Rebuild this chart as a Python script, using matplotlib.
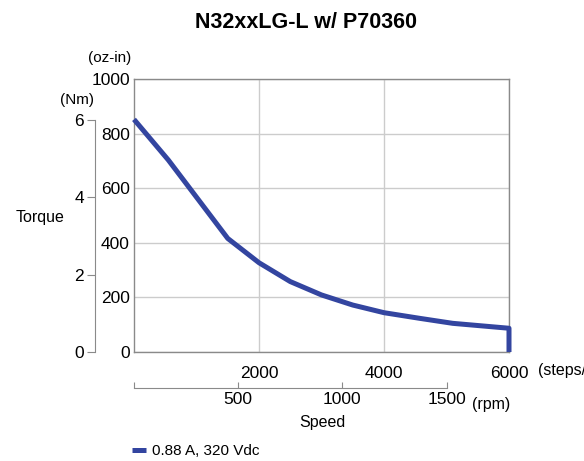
import matplotlib
matplotlib.use('Agg')
import matplotlib.pyplot as plt

plt.rcParams['font.family'] = ['Liberation Sans', 'DejaVu Sans']

# speed in steps/s, torque in oz-in
speed = [0, 550, 1500, 2000, 2500, 3000, 3500, 4000, 4580, 5100, 6000, 6000]
torque = [852, 703, 416, 327, 258, 209, 172, 144, 123, 105, 87, 0]

oz_ticks = [0, 200, 400, 600, 800, 1000]
nm_ticks = [0, 2, 4, 6]
step_ticks = [2000, 4000, 6000]
rpm_ticks = [0, 500, 1000, 1500]
rpm_labels = ['', '500', '1000', '1500']

title = 'N32xxLG-L w/ P70360'
series_label = '0.88 A, 320 Vdc'

W, H = 584, 461
PT = 0.72  # points per pixel at dpi 100
fig = plt.figure(figsize=(W / 100, H / 100), dpi=100)

x0, x1, y0, y1 = 134, 509, 79, 352
pos = [x0 / W, 1 - y1 / H, (x1 - x0) / W, (y1 - y0) / H]

ax = fig.add_axes(pos)
ax.plot(speed, torque, color='#3345a0', lw=3.6, solid_capstyle='butt',
        solid_joinstyle='round', label=series_label, zorder=5, clip_on=False)
ax.set_xlim(0, 6000)
ax.set_ylim(0, 1000)
ax.set_xticks(step_ticks)
ax.set_yticks(oz_ticks)
ax.grid(True, color='#cccccc', lw=1)
ax.tick_params(length=0, labelsize=12.5, pad=3)
ax.tick_params(axis='x', pad=10)
for s in ax.spines.values():
    s.set_color('#8a8a8a')
    s.set_linewidth(1)
ax.annotate('(steps/s)', xy=(6000, 0), xycoords=('data', 'axes fraction'),
            xytext=(29 * PT, -19 * PT), textcoords='offset points',
            fontsize=11.5, ha='left', va='center', annotation_clip=False)
fig.text(110 / W, 1 - 58 / H, '(oz-in)', fontsize=11, ha='center', va='center')

# Nm axis
axn = fig.add_axes(pos)
axn.set_ylim(0, 1000 / 141.612)
axn.set_xticks([])
axn.set_yticks(nm_ticks)
axn.patch.set_visible(False)
for k in ['top', 'right', 'bottom']:
    axn.spines[k].set_visible(False)
axn.spines['left'].set_position(('outward', 39 * PT))
axn.spines['left'].set_bounds(0, 6)
axn.spines['left'].set_color('#8a8a8a')
axn.tick_params(axis='y', direction='out', length=8 * PT, color='#8a8a8a',
                labelsize=12.5, pad=2)
fig.text(77 / W, 1 - 100 / H, '(Nm)', fontsize=11, ha='center', va='center')
fig.text(40 / W, 1 - 217 / H, 'Torque', fontsize=11.5, ha='center', va='center')

# rpm axis
axr = fig.add_axes(pos)
axr.set_xlim(-0.6, 6000 * 60 / 200)
axr.set_yticks([])
axr.patch.set_visible(False)
for k in ['top', 'right', 'left']:
    axr.spines[k].set_visible(False)
axr.spines['bottom'].set_position(('outward', 36 * PT))
axr.spines['bottom'].set_bounds(0, 1500)
axr.spines['bottom'].set_color('#8a8a8a')
axr.set_xticks(rpm_ticks)
axr.set_xticklabels(rpm_labels)
axr.tick_params(axis='x', direction='in', length=6 * PT, color='#8a8a8a',
                labelsize=12.5, pad=3)
axr.annotate('(rpm)', xy=(1500, 0), xycoords=('data', 'axes fraction'),
             xytext=(25 * PT, -53 * PT), textcoords='offset points',
             fontsize=11.5, ha='left', va='center', annotation_clip=False)
fig.text(322 / W, 1 - 422 / H, 'Speed', fontsize=11.5, ha='center', va='center')

fig.text(306 / W, 1 - 23 / H, title, fontsize=15.5, fontweight='bold',
         ha='center', va='center')

h, l = ax.get_legend_handles_labels()
fig.legend(h, l, loc='center left', bbox_to_anchor=(118 / W, 1 - 451 / H),
           frameon=False, handlelength=0.9, handletextpad=0.4, fontsize=11)

fig.savefig('out.png', dpi=100)
